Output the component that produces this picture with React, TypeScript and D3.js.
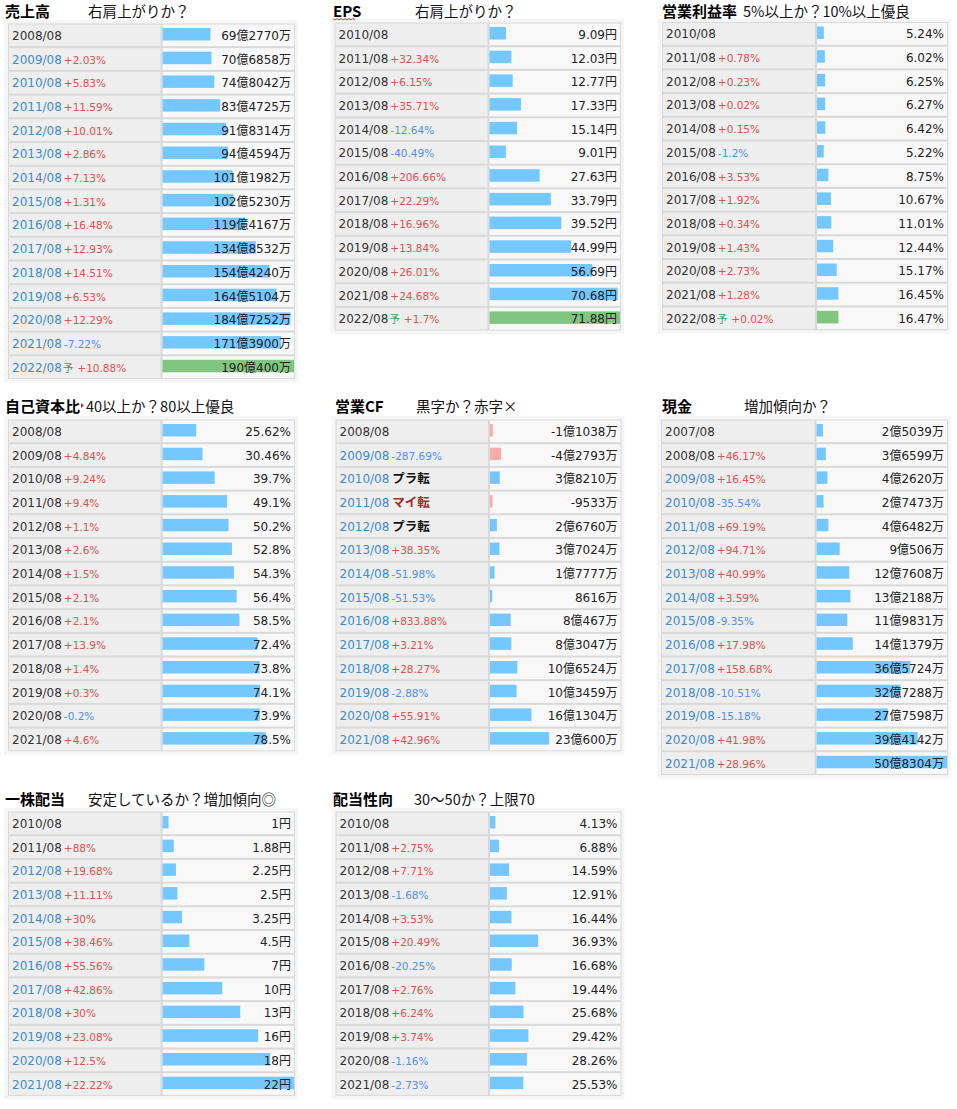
import React from 'react';
import * as d3 from 'd3';

const FONT = "'DejaVu Sans', 'Noto Sans CJK JP', sans-serif";
const JFONT = "'Noto Sans CJK JP', sans-serif";

// 売上高 (万円)
const salesYears = ['2008/08','2009/08','2010/08','2011/08','2012/08','2013/08','2014/08','2015/08','2016/08','2017/08','2018/08','2019/08','2020/08','2021/08','2022/08'];
const salesValues = [692770,706858,748042,834725,918314,944594,1011982,1025230,1194167,1348532,1544240,1645104,1847252,1713900,1900400];
const salesChanges: (number|string|null)[] = [null,2.03,5.83,11.59,10.01,2.86,7.13,1.31,16.48,12.93,14.51,6.53,12.29,-7.22,10.88];

// EPS (円)
const epsYears = ['2010/08','2011/08','2012/08','2013/08','2014/08','2015/08','2016/08','2017/08','2018/08','2019/08','2020/08','2021/08','2022/08'];
const epsValues = [9.09,12.03,12.77,17.33,15.14,9.01,27.63,33.79,39.52,44.99,56.69,70.68,71.88];
const epsChanges: (number|string|null)[] = [null,32.34,6.15,35.71,-12.64,-40.49,206.66,22.29,16.96,13.84,26.01,24.68,1.7];

// 営業利益率 (%)
const marginYears = epsYears;
const marginValues = [5.24,6.02,6.25,6.27,6.42,5.22,8.75,10.67,11.01,12.44,15.17,16.45,16.47];
const marginChanges: (number|string|null)[] = [null,0.78,0.23,0.02,0.15,-1.2,3.53,1.92,0.34,1.43,2.73,1.28,0.02];

// 自己資本比 (%)
const equityYears = ['2008/08','2009/08','2010/08','2011/08','2012/08','2013/08','2014/08','2015/08','2016/08','2017/08','2018/08','2019/08','2020/08','2021/08'];
const equityValues = [25.62,30.46,39.7,49.1,50.2,52.8,54.3,56.4,58.5,72.4,73.8,74.1,73.9,78.5];
const equityChanges: (number|string|null)[] = [null,4.84,9.24,9.4,1.1,2.6,1.5,2.1,2.1,13.9,1.4,0.3,-0.2,4.6];

// 営業CF (万円)
const cfYears = equityYears;
const cfValues = [-11038,-42793,38210,-9533,26760,37024,17777,8616,80467,83047,106524,103459,161304,230600];
const cfChanges: (number|string|null)[] = [null,-287.69,'プラ転','マイ転','プラ転',38.35,-51.98,-51.53,833.88,3.21,28.27,-2.88,55.91,42.96];

// 現金 (万円)
const cashYears = ['2007/08','2008/08','2009/08','2010/08','2011/08','2012/08','2013/08','2014/08','2015/08','2016/08','2017/08','2018/08','2019/08','2020/08','2021/08'];
const cashValues = [25039,36599,42620,27473,46482,90506,127608,132188,119831,141379,365724,327288,277598,394142,508304];
const cashChanges: (number|string|null)[] = [null,46.17,16.45,-35.54,69.19,94.71,40.99,3.59,-9.35,17.98,158.68,-10.51,-15.18,41.98,28.96];

// 一株配当 (円)
const divYears = ['2010/08','2011/08','2012/08','2013/08','2014/08','2015/08','2016/08','2017/08','2018/08','2019/08','2020/08','2021/08'];
const divValues = [1,1.88,2.25,2.5,3.25,4.5,7,10,13,16,18,22];
const divChanges: (number|string|null)[] = [null,88,19.68,11.11,30,38.46,55.56,42.86,30,23.08,12.5,22.22];

// 配当性向 (%)
const payoutYears = divYears;
const payoutValues = [4.13,6.88,14.59,12.91,16.44,36.93,16.68,19.44,25.68,29.42,28.26,25.53];
const payoutChanges: (number|string|null)[] = [null,2.75,7.71,-1.68,3.53,20.49,-20.25,2.76,6.24,3.74,-1.16,-2.73];

const fmtMan = (v: number) => {
  const s = v < 0 ? '-' : '';
  const a = Math.abs(v);
  const oku = Math.floor(a / 10000);
  const man = a % 10000;
  if (oku === 0) return s + man + '万';
  return s + oku + '億' + (man ? man + '万' : '');
};
const fmtYen = (v: number) => v + '円';
const fmtPct = (v: number) => v + '%';
const fmtChg = (c: number) => (c > 0 ? '+' : '') + c + '%';

interface PanelDef {
  title: string; subtitle: string; titleX: number; subX: number; titleY: number;
  years: string[]; values: number[]; changes: (number|string|null)[];
  fmt: (v: number) => string; max: number;
  x0: number; sep: number; x1: number; top: number;
  linkFrom: number; forecast: boolean; marker?: string;
}

const panels: PanelDef[] = [
  { title: '売上高', subtitle: '右肩上がりか？', titleX: 5, subX: 88, titleY: 17, years: salesYears, values: salesValues, changes: salesChanges, fmt: fmtMan, max: d3.max(salesValues)!, x0: 8, sep: 161.5, x1: 295, top: 23.5, linkFrom: 1, forecast: true },
  { title: 'EPS', subtitle: '右肩上がりか？', titleX: 333, subX: 415, titleY: 17, years: epsYears, values: epsValues, changes: epsChanges, fmt: fmtYen, max: d3.max(epsValues)!, x0: 334.5, sep: 488.5, x1: 621, top: 22.5, linkFrom: 99, forecast: true, marker: 'wave' },
  { title: '営業利益率', subtitle: '5%以上か？10%以上優良', titleX: 662, subX: 743, titleY: 17, years: marginYears, values: marginValues, changes: marginChanges, fmt: fmtPct, max: 100, x0: 662, sep: 816, x1: 948, top: 22, linkFrom: 99, forecast: true },
  { title: '自己資本比', subtitle: '40以上か？80以上優良', titleX: 5, subX: 86, titleY: 412, years: equityYears, values: equityValues, changes: equityChanges, fmt: fmtPct, max: 100, x0: 8, sep: 161.5, x1: 295, top: 419.5, linkFrom: 99, forecast: false, marker: 'tri' },
  { title: '営業CF', subtitle: '黒字か？赤字×', titleX: 335, subX: 416, titleY: 412, years: cfYears, values: cfValues, changes: cfChanges, fmt: fmtMan, max: d3.max(cashValues)!, x0: 335.5, sep: 489, x1: 621.5, top: 419.5, linkFrom: 1, forecast: false },
  { title: '現金', subtitle: '増加傾向か？', titleX: 662, subX: 744, titleY: 412, years: cashYears, values: cashValues, changes: cashChanges, fmt: fmtMan, max: d3.max(cashValues)!, x0: 661, sep: 815.5, x1: 948, top: 419.5, linkFrom: 2, forecast: false },
  { title: '一株配当', subtitle: '安定しているか？増加傾向◎', titleX: 5, subX: 88, titleY: 805, years: divYears, values: divValues, changes: divChanges, fmt: fmtYen, max: d3.max(divValues)!, x0: 8, sep: 161.5, x1: 295, top: 811.5, linkFrom: 2, forecast: false },
  { title: '配当性向', subtitle: '30〜50か？上限70', titleX: 333, subX: 414, titleY: 805, years: payoutYears, values: payoutValues, changes: payoutChanges, fmt: fmtPct, max: 100, x0: 335.5, sep: 489, x1: 621.5, top: 811.5, linkFrom: 99, forecast: false },
];

const ROW_H = 23.7;

function Panel({ p }: { p: PanelDef }) {
  const n = p.years.length;
  const bottom = p.top + n * ROW_H;
  const y = d3.scaleBand<string>().domain(p.years).range([p.top, bottom]).padding(0);
  const bx0 = p.sep + 1;
  const bx1 = p.x1 - 1;
  const w = d3.scaleLinear().domain([0, p.max]).range([0, bx1 - bx0]).clamp(true);
  return (
    <g>
      <rect x={p.x0 - 4} y={p.top - 3.5} width={p.x1 - p.x0 + 7} height={bottom - p.top + 7} fill="#f5f5f5" />
      <rect x={p.x0} y={p.top} width={p.x1 - p.x0} height={bottom - p.top} fill="#d9d9d9" />
      {p.years.map((yr, i) => {
        const ry = y(yr)!;
        const v = p.values[i];
        const c = p.changes[i];
        const isFc = p.forecast && i === n - 1;
        const fill = isFc ? '#80c680' : v < 0 ? '#ffaaaa' : '#75c8ff';
        return (
          <g key={yr}>
            <rect x={p.x0 + 1} y={ry + 1} width={p.sep - p.x0 - 2} height={ROW_H - 2} fill="#eeeeee" />
            <rect x={p.sep + 1} y={ry + 1} width={p.x1 - p.sep - 2} height={ROW_H - 2} fill="#f8f8f8" />
            <rect x={bx0} y={ry + 4.5} width={w(Math.abs(v))} height={12.5} fill={fill} />
            <text x={p.x0 + 4} y={ry + 16.3} fontFamily={FONT} fontSize={12} fill={i >= p.linkFrom ? '#3d8bcd' : '#333333'}>
              <tspan>{yr}</tspan>
              {isFc && <tspan dx={1} fontFamily={JFONT} fontSize={10.5} fill="#3f9a6a">予</tspan>}
              {typeof c === 'number' && (
                <tspan dx={isFc ? 4 : 2} fontSize={10.5} fill={c >= 0 ? '#d9534f' : '#4f8ff0'}>{fmtChg(c)}</tspan>
              )}
              {typeof c === 'string' && (
                <tspan dx={3} fontFamily={JFONT} fontWeight="bold" fontSize={12.5} fill={c === 'マイ転' ? '#a52a2a' : '#111111'}>{c}</tspan>
              )}
            </text>
            <text x={p.x1 - 4} y={ry + 16.3} textAnchor="end" fontFamily={FONT} fontSize={12} fill="#222222">{p.fmt(v)}</text>
          </g>
        );
      })}
      <text x={p.titleX} y={p.titleY} fontFamily={JFONT} fontWeight="bold" fontSize={15} fill="#000">{p.title}</text>
      <text x={p.subX} y={p.titleY} fontFamily={JFONT} fontSize={14.5} fill="#111">{p.subtitle}</text>
      {p.marker === 'wave' && (
        <path d={d3.range(0, 12).map(k => `${k === 0 ? 'M' : 'L'}${p.titleX + k * 2},${p.titleY + 1.5 + (k % 2 ? 1.5 : 0)}`).join('')} stroke="#e02020" strokeWidth={0.9} fill="none" />
      )}
      {p.marker === 'tri' && (
        <path d={`M${p.subX - 5},${p.titleY - 9}L${p.subX - 2},${p.titleY - 6.5}L${p.subX - 5},${p.titleY - 4}Z`} fill="#e02020" />
      )}
    </g>
  );
}

export default function App() {
  return (
    <svg width={957} height={1109} style={{ position: 'absolute', left: 0, top: 0, background: '#fff' }}>
      <rect x={0} y={0} width={957} height={1109} fill="#ffffff" />
      {panels.map(p => <Panel key={p.title} p={p} />)}
    </svg>
  );
}
